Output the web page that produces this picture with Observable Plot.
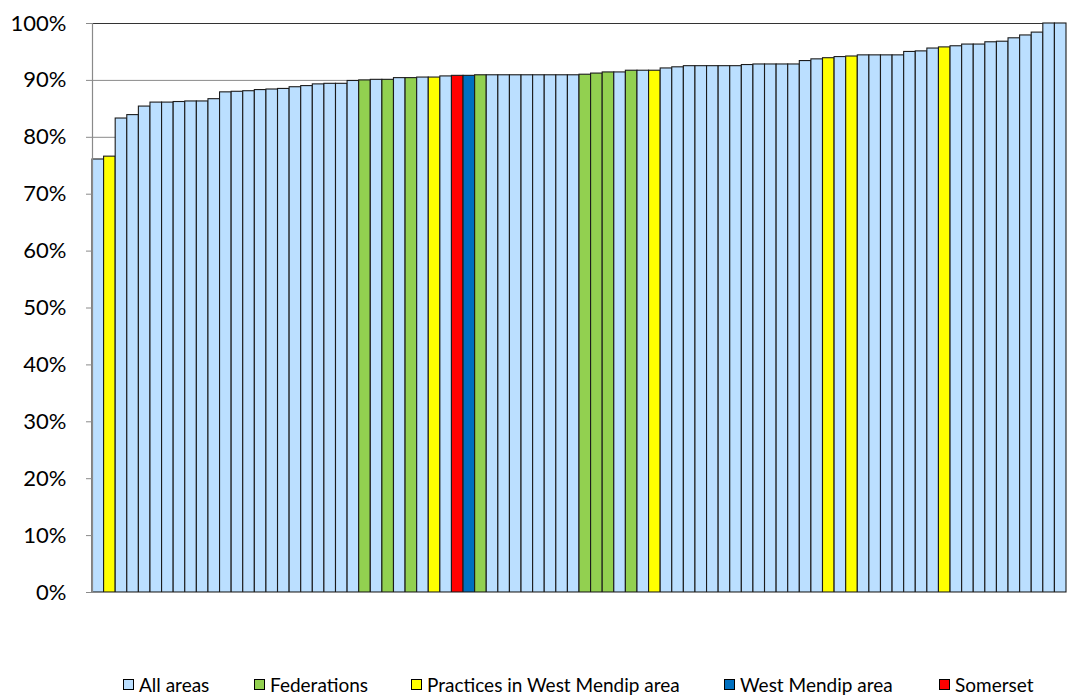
<!DOCTYPE html>
<html>
<head>
<meta charset="utf-8">
<script src="https://cdn.jsdelivr.net/npm/d3@7"></script>
<script src="https://cdn.jsdelivr.net/npm/@observablehq/plot@0.6"></script>
<style>
  html, body { margin: 0; padding: 0; background: #fff; }
  #wrap { position: relative; width: 1067px; height: 698px; font-family: Lato, "Open Sans", sans-serif; }
  #legend { position: absolute; left: 0; top: 673px; width: 1067px; height: 25px; font-size: 19px; color: #000; }
  .item { position: absolute; top: 0; white-space: nowrap; display: flex; align-items: center; }
  .sw { width: 9px; height: 9px; border: 1px solid #000; margin-right: 5px; display: inline-block; }
</style>
</head>
<body>
<div id="wrap">
  <div id="chart"></div>
  <div id="legend"></div>
</div>
<script>
// Series groups (legend order) and their colours
const groupNames = ["All areas", "Federations", "Practices in West Mendip area", "West Mendip area", "Somerset"];
const groupColors = ["#BBDFFF", "#92D050", "#FFFF00", "#0070C0", "#FF0000"];

// Group code per bar: A = All areas, F = Federations, P = Practices in West Mendip area, W = West Mendip area, S = Somerset
const barGroups = [
  "A","P","A","A","A","A","A","A","A","A",
  "A","A","A","A","A","A","A","A","A","A",
  "A","A","A","F","A","F","A","F","A","P",
  "A","S","W","F","A","A","A","A","A","A",
  "A","A","F","F","F","A","F","A","P","A",
  "A","A","A","A","A","A","A","A","A","A",
  "A","A","A","P","A","P","A","A","A","A",
  "A","A","A","P","A","A","A","A","A","A",
  "A","A","A","A"
];

// Percentage per bar (sorted ascending)
const barValues = [
  76.1, 76.6, 83.3, 83.9, 85.4, 86.1, 86.1, 86.2, 86.3, 86.3,
  86.7, 87.9, 88.0, 88.1, 88.3, 88.4, 88.5, 88.8, 89.0, 89.3,
  89.4, 89.4, 89.9, 90.0, 90.1, 90.1, 90.4, 90.4, 90.5, 90.5,
  90.7, 90.8, 90.8, 90.9, 90.9, 90.9, 90.9, 90.9, 90.9, 90.9,
  90.9, 90.9, 91.0, 91.2, 91.4, 91.4, 91.7, 91.7, 91.7, 92.1,
  92.3, 92.5, 92.5, 92.5, 92.5, 92.5, 92.7, 92.8, 92.8, 92.8,
  92.8, 93.4, 93.7, 93.9, 94.1, 94.2, 94.4, 94.4, 94.4, 94.4,
  95.0, 95.1, 95.6, 95.8, 96.0, 96.3, 96.3, 96.7, 96.8, 97.4,
  97.9, 98.4, 100, 100
];

// Y axis ticks
const yTicks = [0, 10, 20, 30, 40, 50, 60, 70, 80, 90, 100];

const codeToName = {A: groupNames[0], F: groupNames[1], P: groupNames[2], W: groupNames[3], S: groupNames[4]};
const data = barValues.map((v, i) => ({id: i, value: v, group: codeToName[barGroups[i]]}));

const chart = Plot.plot({
  width: 1067,
  height: 660,
  marginTop: 23,
  marginBottom: 68,
  marginLeft: 92,
  marginRight: 1,
  style: {fontFamily: "Lato, 'Open Sans', sans-serif", fontSize: "22px", color: "#000", background: "#fff"},
  x: {domain: data.map(d => d.id), padding: 0, axis: null},
  y: {domain: [0, 100], ticks: yTicks, tickFormat: d => d + "%", label: null},
  color: {domain: groupNames, range: groupColors},
  marks: [
    Plot.gridY(yTicks, {stroke: "#8a8a8a", strokeOpacity: 1, strokeWidth: 1}),
    Plot.ruleY([100], {stroke: "#333", strokeWidth: 1.2}),
    Plot.barY(data, {x: "id", y: "value", fill: "group", stroke: "#1b1b1b", strokeWidth: 1.1}),
    Plot.ruleY([0], {stroke: "#8a8a8a", strokeWidth: 1.2}),
    Plot.frame({anchor: "left", stroke: "#8a8a8a", strokeWidth: 1.2}),
    Plot.axisY(yTicks, {tickFormat: d => d + "%", tickSize: 6, tickPadding: 20, stroke: "#8a8a8a", fontSize: 22, label: null})
  ]
});
document.getElementById("chart").appendChild(chart);

// Legend (HTML, below the SVG)
const legendX = [123, 254, 411, 724, 939];
const legend = document.getElementById("legend");
groupNames.forEach((name, i) => {
  const it = document.createElement("div");
  it.className = "item";
  it.style.left = legendX[i] + "px";
  const sw = document.createElement("span");
  sw.className = "sw";
  sw.style.background = groupColors[i];
  it.appendChild(sw);
  it.appendChild(document.createTextNode(name));
  legend.appendChild(it);
});
</script>
</body>
</html>
